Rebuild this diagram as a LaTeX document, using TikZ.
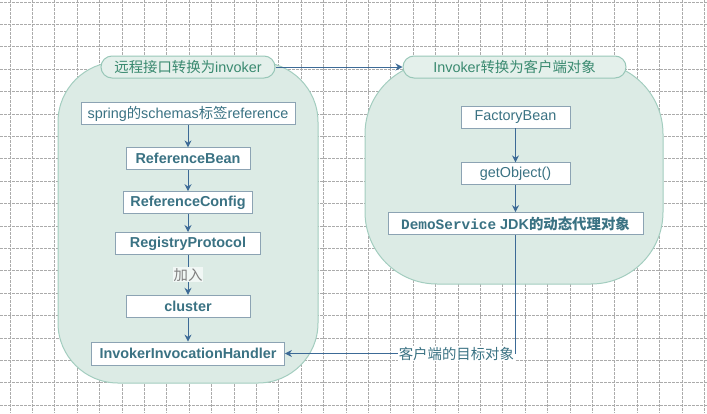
\documentclass[tikz,border=0pt]{standalone}
\usepackage{fontspec}
\setmainfont{Liberation Sans}
\newfontfamily\cjk{Noto Sans CJK SC}
\newfontfamily\codefont{Liberation Mono}
\usetikzlibrary{positioning,arrows.meta}

\definecolor{gridgray}{HTML}{ABABAB}
\definecolor{panelfill}{HTML}{DCEBE5}
\definecolor{panelline}{HTML}{A3CDBF}
\definecolor{pillfill}{HTML}{E4F0EB}
\definecolor{pillline}{HTML}{98C7B8}
\definecolor{titletext}{HTML}{3A8A70}
\definecolor{boxline}{HTML}{8CA3B3}
\definecolor{boxtext}{HTML}{3A7283}
\definecolor{flowblue}{HTML}{3C6A96}

\newcommand\zh[1]{{\cjk #1}}

\begin{document}
\begin{tikzpicture}[x=1pt,y=-1pt,font=\fontsize{14.4pt}{17pt}\selectfont,
    >={Stealth[length=7pt,width=7pt]}]
        \tikzstyle{gridline}=[draw=gridgray,line width=0.7pt,dash pattern=on 2.5pt off 1.5pt]
        \tikzstyle{panel}=[draw=panelline,fill=panelfill,line width=1pt]
        \tikzstyle{title}=[draw=pillline,fill=pillfill,rectangle,rounded corners=11pt,minimum height=22pt,inner ysep=0pt,text=titletext,line width=1pt]
        \tikzstyle{box}=[draw=boxline,fill=white,rectangle,minimum height=22pt,inner ysep=0pt,text=boxtext,line width=0.8pt]
        \tikzstyle{flow}=[draw=flowblue,line width=1pt]
        \useasboundingbox (0,0) rectangle (707,413);

        % background grid
        \foreach \i in {0,...,31}
            \draw[gridline] (10+22.4*\i,0) -- (10+22.4*\i,413);
        \foreach \j in {0,...,18}
            \draw[gridline] (0,2+22.4*\j) -- (707,2+22.4*\j);

        % the two groups
        \draw[panel,rounded corners=60pt] (58,62) rectangle (318,383);
        \draw[panel,rounded corners=72pt] (365,62) rectangle (663,284);

        \node[title,minimum width=174pt] (lefttitle) at (188,67) {\zh{远程接口转换为}invoker};
        \node[title,minimum width=223pt] (righttitle) at (514.5,67) {Invoker\zh{转换为客户端对象}};
        \draw[flow,->] (lefttitle) -- (righttitle);

        % left chain
        \node[box,minimum width=214pt] (spring) at (188,113.5) {spring\zh{的}schemas\zh{标签}reference};
        \node[box,minimum width=124pt,font=\fontsize{14.4pt}{17pt}\selectfont\bfseries] (refbean) [below=22.5pt of spring] {ReferenceBean}
            edge[<-,flow] (spring);
        \node[box,minimum width=129pt,font=\fontsize{14.4pt}{17pt}\selectfont\bfseries] (refconfig) [below=21pt of refbean] {ReferenceConfig}
            edge[<-,flow] (refbean);
        \node[box,minimum width=145pt,font=\fontsize{14.4pt}{17pt}\selectfont\bfseries] (regproto) [below=18pt of refconfig] {RegistryProtocol}
            edge[<-,flow] (refconfig);
        \node[box,minimum width=124pt,font=\fontsize{14.4pt}{17pt}\selectfont\bfseries] (cluster) [below=40pt of regproto] {cluster}
            edge[<-,flow] node[midway,fill=panelfill!40!white,inner sep=1pt,text=gray,font=\fontsize{14.4pt}{17pt}\selectfont] {\zh{加入}} (regproto);
        \node[box,minimum width=193pt,minimum height=23pt,font=\fontsize{14.4pt}{17pt}\selectfont\bfseries] (handler) [below=24pt of cluster] {InvokerInvocationHandler}
            edge[<-,flow] (cluster);

        % right chain
        \node[box,minimum width=109pt] (factory) at (515.5,117) {FactoryBean};
        \node[box,minimum width=109pt] (getobj) [below=34pt of factory] {getObject()}
            edge[<-,flow] (factory);
        \node[box,minimum width=255pt] (demo) [below=27pt of getobj] {\textbf{{\codefont DemoService} JDK\zh{的动态代理对象}}}
            edge[<-,flow] (getobj);

        \draw[flow,->] (demo.south) |- node[pos=0.5,anchor=east,fill=white,inner sep=1pt,text=boxtext] {\zh{客户端的目标对象}} (handler.east);
    \end{tikzpicture}
\end{document}
